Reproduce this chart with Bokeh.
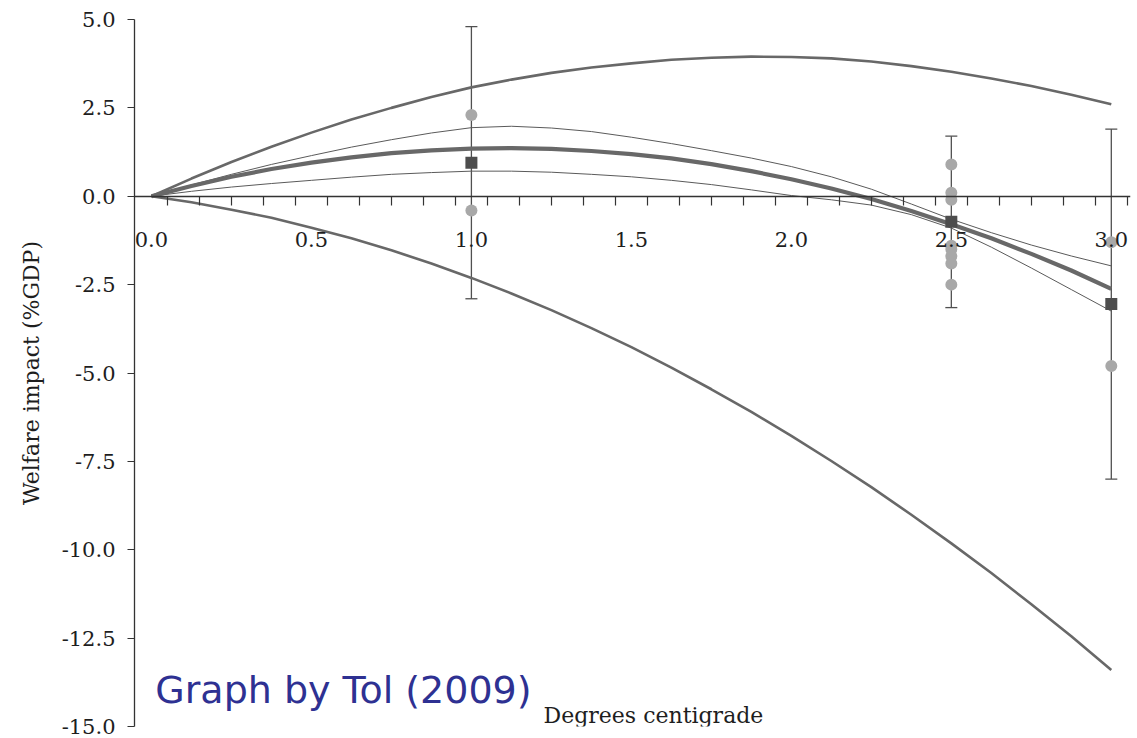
from bokeh.plotting import figure
from bokeh.models import (Range1d, FixedTicker, PrintfTickFormatter, Whisker,
                          TeeHead, ColumnDataSource, Label)
from bokeh.embed import file_html
from bokeh.resources import INLINE

# ---- data ----
temps = [0.0, 0.125, 0.25, 0.375, 0.5, 0.625, 0.75, 0.875, 1.0, 1.125, 1.25, 1.375,
         1.5, 1.625, 1.75, 1.875, 2.0, 2.125, 2.25, 2.375, 2.5, 2.625, 2.75, 2.875, 3.0]
best_fit = [0.0, 0.29, 0.55, 0.77, 0.95, 1.10, 1.22, 1.30, 1.35, 1.36, 1.34, 1.28,
            1.19, 1.07, 0.91, 0.71, 0.48, 0.22, -0.08, -0.42, -0.79, -1.19, -1.63, -2.10, -2.62]
ci_upper = [0.0, 0.32, 0.62, 0.90, 1.15, 1.39, 1.60, 1.79, 1.94, 1.98, 1.93, 1.83,
            1.67, 1.49, 1.29, 1.08, 0.84, 0.55, 0.20, -0.22, -0.65, -1.03, -1.38, -1.69, -1.97]
ci_lower = [0.0, 0.14, 0.26, 0.36, 0.45, 0.54, 0.62, 0.67, 0.71, 0.71, 0.68, 0.62,
            0.55, 0.45, 0.33, 0.18, 0.02, -0.10, -0.25, -0.52, -0.90, -1.44, -2.03, -2.64, -3.25]
outer_upper = [0.0, 0.50, 0.97, 1.40, 1.80, 2.17, 2.50, 2.81, 3.08, 3.30, 3.49, 3.64,
               3.76, 3.86, 3.92, 3.95, 3.94, 3.90, 3.81, 3.68, 3.52, 3.33, 3.12, 2.87, 2.60]
outer_lower = [0.0, -0.17, -0.38, -0.61, -0.89, -1.19, -1.53, -1.90, -2.31, -2.75, -3.22, -3.73,
               -4.27, -4.85, -5.46, -6.10, -6.78, -7.49, -8.23, -9.01, -9.82, -10.66, -11.54, -12.45, -13.40]

study_temp = [1.0, 1.0, 2.5, 2.5, 2.5, 2.5, 2.5, 2.5, 2.5, 2.5, 3.0, 3.0]
study_impact = [2.3, -0.4, 0.9, 0.1, -0.1, -1.4, -1.5, -1.7, -1.9, -2.5, -1.3, -4.8]

mean_temp = [1.0, 2.5, 3.0]
mean_impact = [0.95, -0.72, -3.05]
mean_high = [4.8, 1.7, 1.9]
mean_low = [-2.9, -3.15, -8.0]

x_tick_values = [0.0, 0.5, 1.0, 1.5, 2.0, 2.5, 3.0]
y_tick_values = [-15.0, -12.5, -10.0, -7.5, -5.0, -2.5, 0.0, 2.5, 5.0]

SERIF = "DejaVu Serif"
TXT = "#1e1e1e"

p = figure(width=1137, height=738,
           x_range=Range1d(-0.053, 3.06), y_range=Range1d(-15, 5),
           output_backend="svg", toolbar_location=None,
           min_border_left=134, min_border_right=7,
           min_border_top=19, min_border_bottom=12)
p.outline_line_color = None
p.xgrid.visible = False
p.ygrid.visible = False
p.background_fill_color = "white"
p.border_fill_color = "white"

# curves
p.line(temps, outer_upper, line_color="#686868", line_width=2.6)
p.line(temps, outer_lower, line_color="#686868", line_width=2.6)
p.line(temps, ci_upper, line_color="#5a5a5a", line_width=1.0)
p.line(temps, ci_lower, line_color="#5a5a5a", line_width=1.0)
p.line(temps, best_fit, line_color="#686868", line_width=4.2)

# individual studies
p.scatter(study_temp, study_impact, marker="circle", size=12,
          fill_color="#a8a8a8", line_color=None)

# error bars
src = ColumnDataSource(dict(t=mean_temp, v=mean_impact, hi=mean_high, lo=mean_low))
wh = Whisker(source=src, base="t", upper="hi", lower="lo",
             line_color="#505050", line_width=1.3,
             upper_head=TeeHead(size=12, line_color="#505050", line_width=1.3),
             lower_head=TeeHead(size=12, line_color="#505050", line_width=1.3))
p.add_layout(wh)

p.scatter("t", "v", source=src, marker="square", size=12,
          fill_color="#4d4d4d", line_color=None)

# x axis crossing at y = 0
xa = p.xaxis[0]
xa.fixed_location = 0
xa.ticker = FixedTicker(ticks=x_tick_values,
                        minor_ticks=[round(0.05 + 0.1 * i, 2) for i in range(31)])
xa.formatter = PrintfTickFormatter(format="%.1f")
xa.axis_line_color = "#333333"
xa.axis_line_width = 1.3
xa.major_tick_out = 0
xa.major_tick_in = 0
xa.minor_tick_out = 9
xa.minor_tick_in = 0
xa.minor_tick_line_color = "#333333"
xa.minor_tick_line_width = 1.2
xa.major_label_standoff = 27
xa.major_label_text_font = SERIF
xa.major_label_text_font_size = "21px"
xa.major_label_text_color = TXT

ya = p.yaxis[0]
ya.ticker = FixedTicker(ticks=y_tick_values, minor_ticks=[])
ya.formatter = PrintfTickFormatter(format="%.1f")
ya.axis_line_color = "#333333"
ya.axis_line_width = 1.3
ya.major_tick_out = 7
ya.major_tick_in = 0
ya.major_tick_line_color = "#333333"
ya.major_tick_line_width = 1.2
ya.minor_tick_out = 0
ya.minor_tick_in = 0
ya.major_label_standoff = 12
ya.major_label_text_font = SERIF
ya.major_label_text_font_size = "21px"
ya.major_label_text_color = TXT
ya.axis_label = "Welfare impact (%GDP)"
ya.axis_label_text_font = SERIF
ya.axis_label_text_font_size = "22px"
ya.axis_label_text_font_style = "normal"
ya.axis_label_text_color = TXT
ya.axis_label_standoff = 15

p.add_layout(Label(x=1.569, y=-14.69, text="Degrees centigrade",
                   text_align="center", text_baseline="alphabetic",
                   text_font=SERIF, text_font_size="22px", text_color=TXT))
p.add_layout(Label(x=0.012, y=-13.98, text="Graph by Tol (2009)",
                   text_align="left", text_baseline="alphabetic",
                   text_font="DejaVu Sans", text_font_size="38px",
                   text_color="#2E3192"))

open("out.html", "w").write(file_html(p, INLINE))
